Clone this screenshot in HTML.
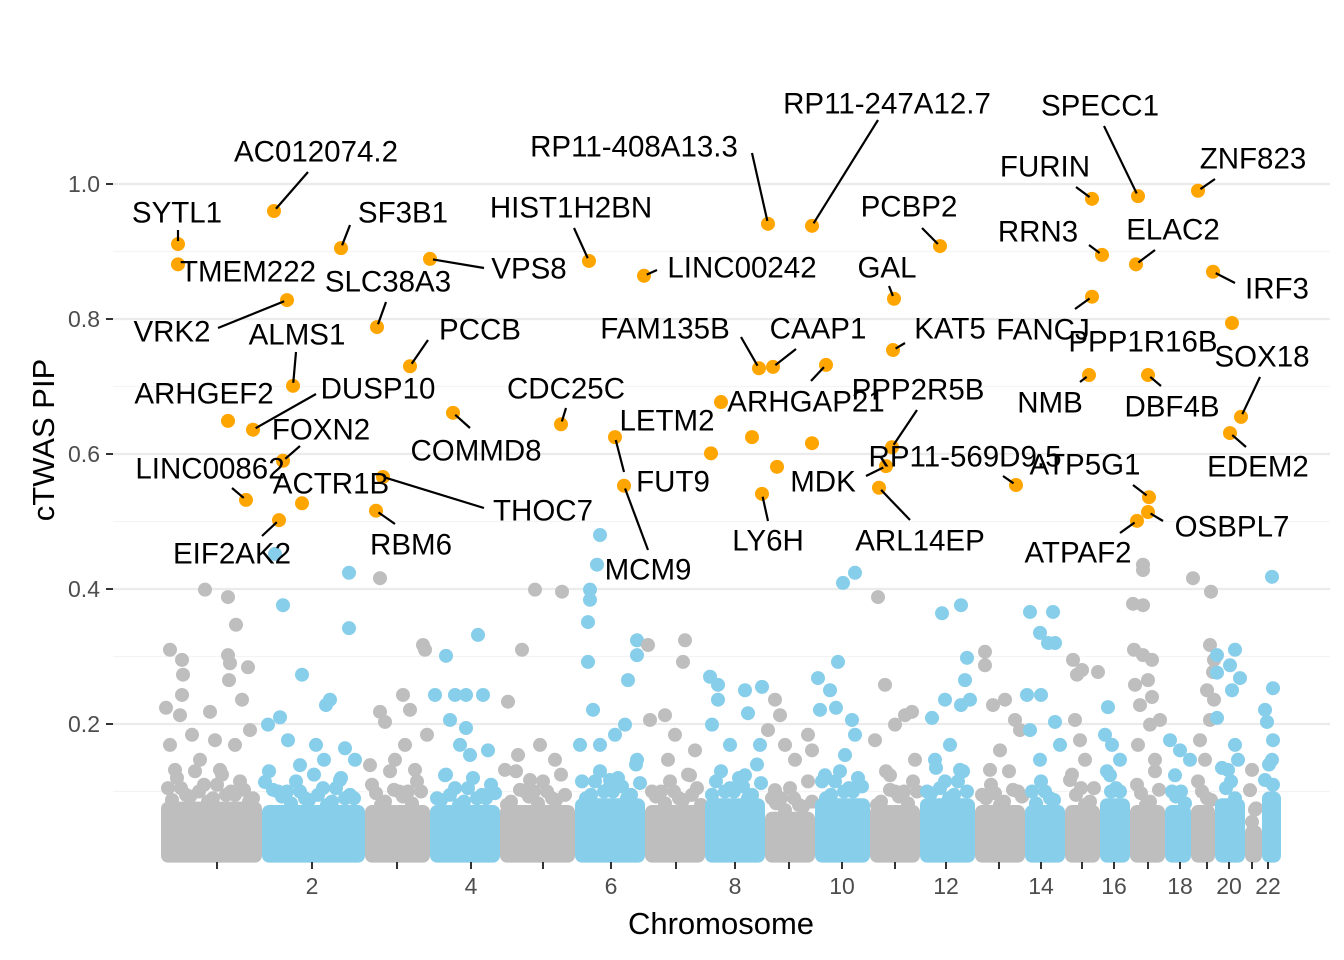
<!DOCTYPE html>
<html><head><meta charset="utf-8"><style>
html,body{margin:0;padding:0;background:#fff;}
svg{display:block;font-family:"Liberation Sans",Arial,sans-serif;}
</style></head><body>
<svg id="chart" width="1344" height="960" viewBox="0 0 1344 960" xmlns="http://www.w3.org/2000/svg">
<g id="grid"></g>
<g id="bands"></g>
<g id="bg"></g>
<g id="hl"></g>
<g id="lines"></g>
<g id="labels"></g>
<g id="axes"></g>
<text x="721" y="934" font-size="31" text-anchor="middle">Chromosome</text>
<text x="0" y="0" font-size="31" text-anchor="middle" transform="translate(54,440) rotate(-90)">cTWAS PIP</text>
</svg>
<script>
// ---- data ----
const chromBounds = [0,101,204,269,339,414,484,544,604,654,709,759,814,864,904,939,969,1004,1030,1054,1084,1101,1120];
const chromTicks = [56,151,236,310,382,450,515,574,628,681,734,785,838,880,921,953,987,1019,1046,1068,1091,1107];
const chromTickLabels = ["","2","","4","","6","","8","","10","","12","","14","","16","","18","","20","","22"];
const bandTop = [0.085,0.08,0.08,0.08,0.08,0.09,0.08,0.09,0.07,0.09,0.08,0.09,0.08,0.08,0.08,0.09,0.08,0.08,0.08,0.09,0.05,0.1];
const bandJitter = [0.02,0.035,0.01,0.045,0.025,0.005,0.04,0.015,0.03,0.0,0.05,0.02];
const yTicks = [0.2,0.4,0.6,0.8,1.0];
const yTickLabels = ["0.2","0.4","0.6","0.8","1.0"];
const yMinor = [0.1,0.3,0.5,0.7,0.9];
const bgPos = [9,21,22,21,19,44,67,75,67,69,68,87,81,5,9,31,49,74,39,54,89,14,59,
122,114,188,188,141,169,165,119,107,127,155,163,139,184,194,104,179,
219,262,264,242,219,224,249,244,266,209,234,254,
285,317,274,294,305,322,289,305,299,309,327,284,
347,361,374,401,357,379,344,394,369,
439,436,429,427,427,432,419,439,454,476,476,467,464,476,449,429,
487,524,522,489,504,514,534,507,529,
549,557,557,584,587,601,551,569,584,599,
614,607,624,647,651,634,614,619,
682,694,677,657,669,659,675,691,694,684,664,
717,724,744,751,734,714,754,729,
781,800,806,804,784,800,771,809,789,774,799,
824,824,844,832,854,859,839,829,
869,892,879,887,894,866,880,894,869,879,899,
912,916,921,937,914,919,924,909,
947,944,951,959,949,
982,982,972,982,973,982,991,974,987,991,979,989,999,977,994,
1009,1019,1029,1014,
1032,1050,1049,1053,1052,1046,1053,1049,1039,1044,
1056,1056,1056,1069,1074,1079,1071,1074,1077,1067,
1091,1089,1094,
1111,1112,1104,1106,1112,1111,1104];
const bgPip = [.31,.295,.273,.243,.213,.399,.388,.347,.302,.29,.265,.284,.236,.224,.169,.184,.218,.169,.147,.176,.191,.132,.132,
.376,.452,.424,.342,.273,.236,.228,.21,.199,.176,.169,.147,.139,.164,.147,.114,.117,
.416,.317,.31,.243,.218,.203,.221,.169,.184,.139,.147,.132,
.301,.332,.243,.243,.243,.243,.206,.194,.169,.154,.161,.124,
.233,.31,.399,.396,.154,.169,.132,.147,.117,
.48,.436,.399,.351,.292,.221,.169,.169,.184,.302,.324,.265,.199,.147,.117,.384,
.317,.324,.292,.206,.213,.184,.161,.147,.124,
.27,.258,.236,.25,.216,.255,.199,.169,.124,.169,
.236,.191,.169,.184,.161,.147,.102,.213,
.409,.424,.292,.268,.25,.221,.224,.206,.184,.154,.124,
.388,.258,.213,.218,.199,.176,.147,.124,
.364,.376,.298,.265,.236,.228,.209,.236,.169,.147,.132,
.307,.287,.236,.228,.206,.191,.161,.132,
.366,.366,.335,.32,.32,.243,.243,.203,.191,.147,.169,
.295,.273,.28,.277,.206,.176,.147,.117,
.225,.184,.169,.147,.124,
.436,.428,.378,.376,.31,.302,.295,.258,.265,.24,.228,.199,.206,.169,.147,
.176,.161,.147,.124,
.416,.396,.317,.295,.277,.25,.236,.206,.176,.147,
.302,.276,.209,.287,.31,.268,.25,.169,.147,.132,
.132,.102,.073,
.418,.253,.221,.203,.176,.147,.117];
const geneNames = ["SYTL1","TMEM222","AC012074.2","VRK2","ALMS1","ARHGEF2","DUSP10","FOXN2","LINC00862","EIF2AK2","ACTR1B","THOC7","SF3B1","SLC38A3","VPS8","PCCB","RBM6","COMMD8","HIST1H2BN","LINC00242","RP11-408A13.3","RP11-247A12.7","CDC25C","LETM2","FUT9","MCM9","FAM135B","CAAP1","ARHGAP21","","","","","LY6H","MDK","PPP2R5B","ARL14EP","RP11-569D9.5","KAT5","GAL","PCBP2","SPECC1","FURIN","ZNF823","RRN3","ELAC2","IRF3","FANCJ","PPP1R16B","NMB","DBF4B","SOX18","EDEM2","ATP5G1","OSBPL7","ATPAF2"];
const genePos = [17,17,113,126,132,67,92,122,85,118,141,222,180,216,269,249,215,292,428,483,607,651,400,560,454,463,598,612,665,591,550,616,651,601,725,731,718,855,732,733,779,977,931,1037,941,975,1052,931,1071,928,987,1080,1069,988,987,976];
const genePip = [.911,.881,.96,.828,.701,.649,.636,.59,.532,.502,.527,.566,.905,.788,.889,.73,.516,.661,.886,.864,.941,.938,.644,.677,.625,.553,.727,.729,.732,.625,.601,.581,.616,.541,.582,.61,.55,.554,.754,.83,.908,.982,.978,.99,.895,.881,.87,.833,.794,.717,.717,.655,.631,.536,.514,.501];
// label layout (pixels): label center and connector anchor (null = no connector)
const labelX = [177,248,316,172,297,204,378,321,210,232,331,543,403,388,529,480,411,476,571,742,634,887,566,667,673,648,665,818,806,0,0,0,0,768,823,918,920,965,950,887,909,1100,1045,1253,1038,1173,1277,1043,1143,1050,1172,1262,1258,1085,1232,1078];
const labelY = [213,272,152,332,335,394,389,430,469,554,484,511,213,282,269,330,545,451,208,268,147,104,389,421,482,570,329,329,402,0,0,0,0,541,482,390,541,457,329,268,207,106,167,159,232,230,289,330,342,403,407,357,467,465,527,553];
const anchorX = [178,null,308,218,296,null,316,300,232,262,null,484,350,386,484,428,395,470,574,657,752,878,566,null,624,648,741,796,811,null,null,null,null,768,866,917,910,1003,905,889,922,1104,1076,1215,1089,1155,1235,1075,null,1080,1161,1260,1246,1133,1163,1120];
const anchorY = [230,null,172,328,352,null,394,446,488,536,null,508,225,302,268,340,524,428,228,270,153,120,408,null,472,550,337,349,381,null,null,null,null,521,476,410,520,476,343,286,228,126,187,179,245,250,283,309,null,382,386,377,447,485,521,533];

// ---- scales ----
const X0=161,X1=1281,PL=113,PR=1330;
function xs(p){return X0+(p-chromBounds[0])/(chromBounds[chromBounds.length-1]-chromBounds[0])*(X1-X0);}
function ys(v){return 859-v*675;}
const NS="http://www.w3.org/2000/svg";
function mk(tag,attrs,parent){const e=document.createElementNS(NS,tag);for(const k in attrs)e.setAttribute(k,attrs[k]);parent.appendChild(e);return e;}
function chromOf(p){for(let i=0;i<chromBounds.length-1;i++){if(p<chromBounds[i+1])return i;}return chromBounds.length-2;}
const GRAY="#bebebe",BLUE="#87ceeb",ORANGE="#ffa500";
function colOf(i){return i%2===0?GRAY:BLUE;}
const R=7;

const grid=document.getElementById('grid');
yMinor.forEach(v=>{const l=mk('line',{x1:PL,x2:PR,y1:ys(v),y2:ys(v),stroke:"#f4f4f4","stroke-width":1.2},grid);

});
yTicks.forEach(v=>{const l=mk('line',{x1:PL,x2:PR,y1:ys(v),y2:ys(v),stroke:"#ebebeb","stroke-width":2.2},grid);

});

const bands=document.getElementById('bands');
let jj=0;
for(let i=0;i<chromBounds.length-1;i++){
  const x1=xs(chromBounds[i]),x2=xs(chromBounds[i+1]);
  const col=colOf(i);
  const r=mk('rect',{x:x1,y:ys(bandTop[i]),width:x2-x1,height:ys(0.005)+R-ys(bandTop[i]),rx:R,fill:col},bands);
  
  
  // ragged top edge of the dense point cloud
  for(let x=x1+R;x<=x2-R+0.1;x+=9){
    const c=mk('circle',{cx:x,cy:ys(bandTop[i]+bandJitter[jj%bandJitter.length]),r:R,fill:col},bands);
    
    
    const c2=mk('circle',{cx:x+4,cy:ys(bandTop[i]+bandJitter[(jj+5)%bandJitter.length]*0.5),r:R,fill:col},bands);
    
    
    jj++;
  }
}
const bg=document.getElementById('bg');
for(let k=0;k<bgPos.length;k++){
  const c=mk('circle',{cx:xs(bgPos[k]),cy:ys(bgPip[k]),r:R,fill:colOf(chromOf(bgPos[k]))},bg);
  
  
}
const hl=document.getElementById('hl'),lines=document.getElementById('lines'),labels=document.getElementById('labels');
for(let k=0;k<genePos.length;k++){
  const cx=xs(genePos[k]),cy=ys(genePip[k]);
  const c=mk('circle',{cx:cx,cy:cy,r:R,fill:ORANGE},hl);
  
  
  if(anchorX[k]!==null){
    const dx=cx-anchorX[k],dy=cy-anchorY[k],d=Math.hypot(dx,dy)||1;
    const ex=cx-dx/d*3,ey=cy-dy/d*3;
    const l=mk('line',{x1:anchorX[k],y1:anchorY[k],x2:ex,y2:ey,stroke:"#000","stroke-width":2.2},lines);
    
    
  }
  if(geneNames[k]){
    const t=mk('text',{x:labelX[k],y:labelY[k],"font-size":29.5,"text-anchor":"middle","dominant-baseline":"central",fill:"#000"},labels);
    t.textContent=geneNames[k];
    
    
  }
}
const axes=document.getElementById('axes');
yTicks.forEach((v,i)=>{
  const tk=mk('line',{x1:106,x2:113,y1:ys(v),y2:ys(v),stroke:"#333","stroke-width":2},axes);
  
  
  const t=mk('text',{x:100,y:ys(v),"font-size":23,"text-anchor":"end","dominant-baseline":"central",fill:"#4d4d4d"},axes);
  t.textContent=yTickLabels[i];
  
  
});
chromTicks.forEach((p,i)=>{
  const tk=mk('line',{x1:xs(p),x2:xs(p),y1:862,y2:869,stroke:"#333","stroke-width":2},axes);
  
  
  if(chromTickLabels[i]){
    const t=mk('text',{x:xs(p),y:886,"font-size":23,"text-anchor":"middle","dominant-baseline":"central",fill:"#4d4d4d"},axes);
    t.textContent=chromTickLabels[i];
    
    
  }
});
</script>
</body></html>
